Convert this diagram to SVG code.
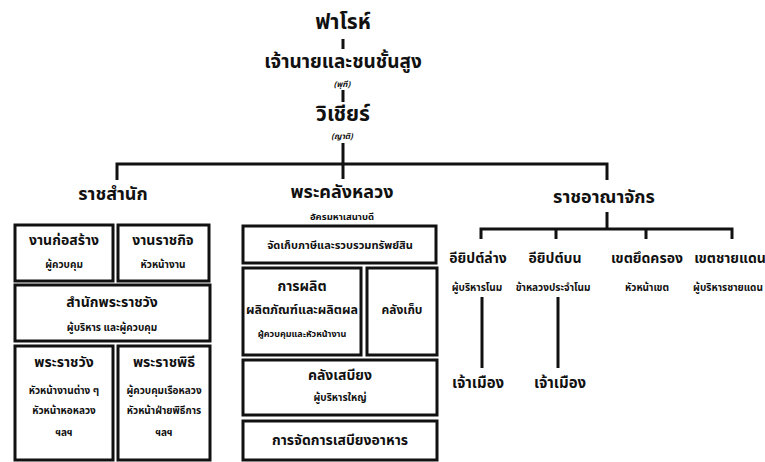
<svg xmlns="http://www.w3.org/2000/svg" width="765" height="462" viewBox="0 0 765 462">
<style>
text{font-family:"Noto Sans Thai","Noto Serif Thai","DejaVu Sans","Noto Sans",sans-serif;font-weight:bold;fill:#111;text-anchor:middle}
.t1{font-size:21px}
.t2{font-size:19px}
.t3{font-size:21px}
.h{font-size:18px}
.b{font-size:14px}
.s{font-size:10px}
.i{font-size:8px;font-style:italic}
.box{fill:#fff;stroke:#111;stroke-width:3}
.ln{stroke:#111;stroke-width:3;fill:none}
</style>
<rect width="765" height="462" fill="#fff"/>
<g id="connectors">
<line class="ln" x1="343" y1="39" x2="343" y2="49"/>
<line class="ln" x1="343" y1="90" x2="343" y2="102"/>
<line class="ln" x1="343" y1="143" x2="343" y2="179"/>
<polyline class="ln" points="117,180 117,164 607,164 607,180"/>
<line class="ln" x1="607" y1="212" x2="607" y2="229"/>
<polyline class="ln" points="481,239 481,229 732,229 732,239"/>
<line class="ln" x1="556" y1="229" x2="556" y2="239"/>
<line class="ln" x1="646" y1="229" x2="646" y2="239"/>
<line class="ln" x1="482" y1="297" x2="482" y2="368"/>
<line class="ln" x1="558" y1="297" x2="558" y2="368"/>
</g>
<g id="pharaoh"><text class="t1" x="343" y="29">ฟาโรห์</text></g>
<g id="nobles"><text class="t2" x="343" y="68">เจ้านายและชนชั้นสูง</text><text class="i" x="342" y="87">(พุที)</text></g>
<g id="vizier"><text class="t3" x="343" y="121">วิเชียร์</text><text class="i" x="342" y="139">(ญาติ)</text></g>
<g id="court"><text class="h" x="113" y="200">ราชสำนัก</text></g>
<g id="treasury"><text class="h" x="342" y="198">พระคลังหลวง</text><text class="s" x="342" y="220" style="font-size:9.5px">อัครมหาเสนาบดี</text></g>
<g id="kingdom"><text class="h" x="604" y="203">ราชอาณาจักร</text></g>
<g id="construction"><rect class="box" x="15" y="225" width="98" height="56"/><text class="b" x="64" y="245">งานก่อสร้าง</text><text class="s" x="64" y="268">ผู้ควบคุม</text></g>
<g id="royalwork"><rect class="box" x="118" y="225" width="91" height="56"/><text class="b" x="163" y="245">งานราชกิจ</text><text class="s" x="163" y="268">หัวหน้างาน</text></g>
<g id="palaceoffice"><rect class="box" x="15" y="285" width="195" height="56"/><text class="b" x="112" y="307">สำนักพระราชวัง</text><text class="s" x="112" y="331">ผู้บริหาร และผู้ควบคุม</text></g>
<g id="palace"><rect class="box" x="15" y="346" width="98" height="114"/><text class="b" x="64" y="367">พระราชวัง</text><text class="s" x="64" y="394">หัวหน้างานต่าง ๆ</text><text class="s" x="64" y="414">หัวหน้าหอหลวง</text><text class="s" x="64" y="436">ฯลฯ</text></g>
<g id="ceremony"><rect class="box" x="118" y="346" width="92" height="114"/><text class="b" x="164" y="367">พระราชพิธี</text><text class="s" x="164" y="394">ผู้ควบคุมเรือหลวง</text><text class="s" x="164" y="414">หัวหน้าฝ่ายพิธีการ</text><text class="s" x="164" y="436">ฯลฯ</text></g>
<g id="taxation"><rect class="box" x="243" y="226" width="193" height="37"/><text class="s" x="340" y="249" style="font-size:11px">จัดเก็บภาษีและรวบรวมทรัพย์สิน</text></g>
<g id="production"><rect class="box" x="243" y="268" width="118" height="87"/><text class="b" x="302" y="291">การผลิต</text><text class="s" x="302" y="314" style="font-size:12.5px">ผลิตภัณฑ์และผลิตผล</text><text class="s" x="302" y="337" style="font-size:9px">ผู้ควบคุมและหัวหน้างาน</text></g>
<g id="storehouse"><rect class="box" x="367" y="268" width="70" height="87"/><text class="s" x="402" y="314" style="font-size:12px">คลังเก็บ</text></g>
<g id="granary"><rect class="box" x="243" y="360" width="194" height="55"/><text class="b" x="340" y="380">คลังเสบียง</text><text class="s" x="340" y="401">ผู้บริหารใหญ่</text></g>
<g id="foodmgmt"><rect class="box" x="243" y="421" width="194" height="39"/><text class="b" x="340" y="445">การจัดการเสบียงอาหาร</text></g>
<g id="lower"><text class="b" x="478" y="263">อียิปต์ล่าง</text><text class="s" x="477" y="291">ผู้บริหารโนม</text></g>
<g id="upper"><text class="b" x="555" y="263">อียิปต์บน</text><text class="s" x="553" y="291">ข้าหลวงประจำโนม</text></g>
<g id="occupied"><text class="b" x="647" y="263">เขตยึดครอง</text><text class="s" x="647" y="291">หัวหน้าเขต</text></g>
<g id="frontier"><text class="b" x="730" y="263">เขตชายแดน</text><text class="s" x="728" y="291">ผู้บริหารชายแดน</text></g>
<g id="governor1"><text class="b" x="478" y="388" style="font-size:15px">เจ้าเมือง</text></g>
<g id="governor2"><text class="b" x="560" y="388" style="font-size:15px">เจ้าเมือง</text></g>
</svg>
